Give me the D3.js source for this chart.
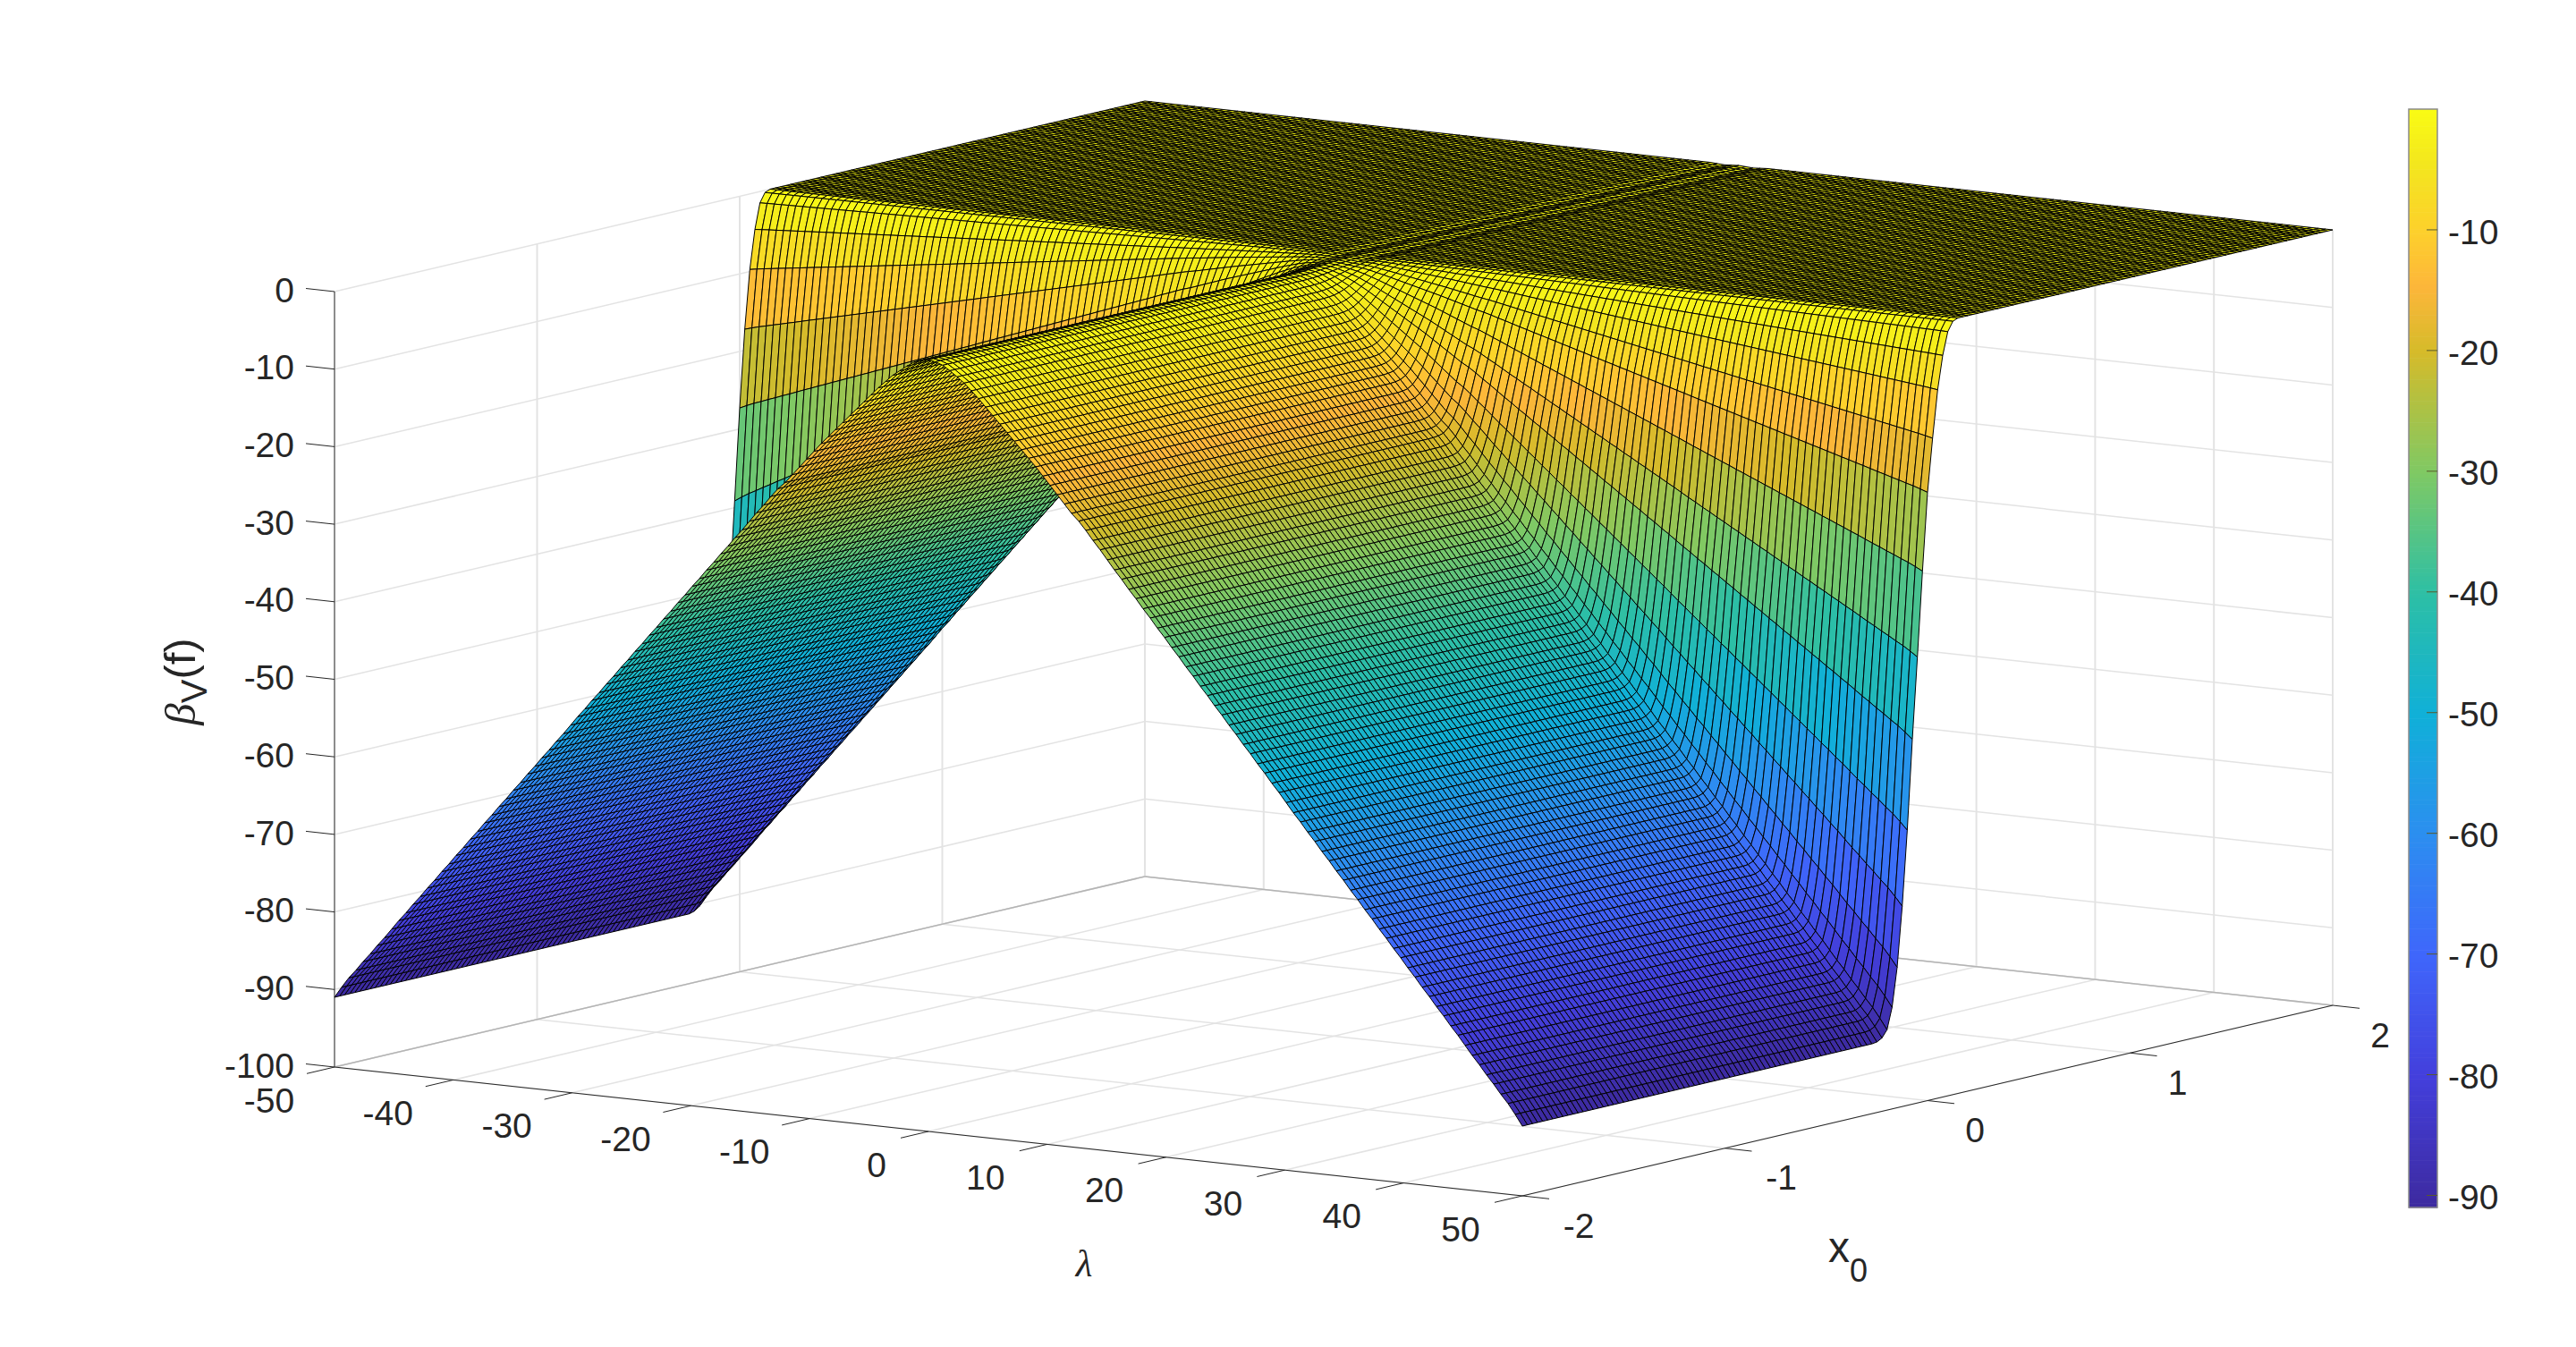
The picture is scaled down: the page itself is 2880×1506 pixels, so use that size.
<!DOCTYPE html>
<html>
<head>
<meta charset="utf-8">
<script src="https://cdn.jsdelivr.net/npm/d3@7"></script>
<style>
  html, body { margin: 0; background: #fff; }
  text { font-family: "Liberation Sans", Arial, sans-serif; fill: #262626; }
</style>
</head>
<body>
<svg id="chart" width="2880" height="1506"></svg>
<script>
var width = 2880,
    height = 1506;

// tick labels
var lambdaTicks = [-50, -40, -30, -20, -10, 0, 10, 20, 30, 40, 50],
    x0Ticks = [-2, -1, 0, 1, 2],
    zTicks = [-100, -90, -80, -70, -60, -50, -40, -30, -20, -10, 0],
    barTicks = [-90, -80, -70, -60, -50, -40, -30, -20, -10];

// mesh positions
var lambdaGrid = d3.range(-83, 84).map(k => k * 50 / 83),
    x0Grid = d3.range(161).map(i => -2 + i * 0.025);

var ridgeProfile = [-0.5, -0.65, -1, -1.6, -2.3, -3, -3.9, -4.8, -5.8, -6.8, -7.8, -8.8,
    -9.8, -10.8, -11.8, -12.8, -13.9, -15, -16.1, -17.2, -18.3, -19.2, -20.3, -21.5,
    -22.6, -23.8, -25, -26.1, -27.3, -28.4, -29.6, -30.7, -31.9, -33, -34.2, -35.3,
    -36.5, -37.6, -38.8, -39.9, -41.1, -42.2, -43.4, -44.5, -45.7, -46.8, -48, -49.1,
    -50.3, -51.4, -52.6, -53.8, -54.9, -56.1, -57.2, -58.4, -59.5, -60.7, -61.8, -63,
    -64.1, -65.3, -66.4, -67.6, -68.7, -69.9, -71, -72.2, -73.3, -74.5, -75.6, -76.8,
    -77.9, -79.1, -80.2, -81.4, -82.6, -83.7, -84.9, -86, -87.2, -88.3, -89.6, -91];

// share of that height left on the wall, x0 = -0.3 to 0.175 in mesh steps,
// read separately along the lambda = -50 and lambda = 50 edges
var wallShareLeft = [1, 1, 1, 0.998, 0.993, 0.975, 0.94, 0.875, 0.79, 0.68,
    0.56, 0.43, 0.3, 0.19, 0.107, 0.052, 0.016, 0.003, 0, 0],
    wallShareRight = [1, 1, 0.999, 0.995, 0.985, 0.955, 0.9, 0.815, 0.709, 0.582,
    0.467, 0.347, 0.237, 0.162, 0.095, 0.048, 0.016, 0.003, 0, 0];

// small crease along lambda = 0 on the flat top
var topCrease = [0, -0.07, -0.14, -0.07];

// colorbar read at these values
var colorValues = [-91, -80, -70, -60, -50, -40, -30, -20, -14.5, -10, -4.5, 0],
    colorStops = ["#3d2a9e", "#433fdc", "#3f66fb", "#2c8ef0", "#10b0d8", "#2dbfa5",
                  "#7fc964", "#d5bb2a", "#fdb63a", "#fdd02c", "#f3e61e", "#f9fb14"];

var colorScale = d3.scaleLinear().domain(colorValues).range(colorStops).clamp(true);

// axes box as it falls on the page
var lamX = d3.scaleLinear().domain([-50, 50]).range([0, 1328]),
    lamY = d3.scaleLinear().domain([-50, 50]).range([0, 144]),
    x0X = d3.scaleLinear().domain([-2, 2]).range([0, 906]),
    x0Y = d3.scaleLinear().domain([-2, 2]).range([0, -213]),
    zY = d3.scaleLinear().domain([-100, 0]).range([0, -867]);

function project(l, x, z) {
    return [374 + lamX(l) + x0X(x), 1193 + lamY(l) + x0Y(x) + zY(z)];
}

function shareAt(i, j) {
    if (i < 68) return 1;
    if (i >= 88) return 0;
    return (j < 83 ? wallShareLeft : wallShareRight)[i - 68];
}

function heightAt(i, j) {
    let k = Math.abs(j - 83),
        s = shareAt(i, j),
        c = k < topCrease.length ? topCrease[k] : 0;
    return ridgeProfile[k] * s + c * (1 - s);
}

var svg = d3.select("#chart"),
    getPath = d3.line();

function seg(g, a, b, color, w) {
    g.append("line")
        .attr("x1", a[0]).attr("y1", a[1])
        .attr("x2", b[0]).attr("y2", b[1])
        .attr("stroke", color)
        .attr("stroke-width", w);
}

function drawGrid() {
    let g = svg.append("g"),
        soft = "#e3e3e3";

    zTicks.forEach(z => {
        seg(g, project(-50, -2, z), project(-50, 2, z), soft, 1.5);
        seg(g, project(-50, 2, z), project(50, 2, z), soft, 1.5);
    });
    lambdaTicks.forEach(l => {
        seg(g, project(l, -2, -100), project(l, 2, -100), soft, 1.5);
        seg(g, project(l, 2, -100), project(l, 2, 0), soft, 2);
    });
    x0Ticks.forEach(x => {
        seg(g, project(-50, x, -100), project(50, x, -100), soft, 1.5);
        seg(g, project(-50, x, -100), project(-50, x, 0), soft, 2);
    });

    // box edges
    seg(g, project(-50, -2, -100), project(-50, 2, -100), "#b4b4b4", 1.5);
    seg(g, project(-50, 2, -100), project(50, 2, -100), "#b4b4b4", 1.5);
    seg(g, project(-50, -2, -100), project(-50, -2, 0), "#8c8c8c", 2);
    seg(g, project(-50, -2, -100), project(50, -2, -100), "#262626", 1);
    seg(g, project(50, -2, -100), project(50, 2, -100), "#262626", 1);
}

function drawTicks() {
    let g = svg.append("g"),
        dark = "#262626";

    zTicks.forEach(z => {
        let p = project(-50, -2, z);
        seg(g, p, [p[0] - 32, p[1] - 3.5], dark, 1);
        g.append("text")
            .attr("x", 329).attr("y", p[1] - 2)
            .attr("dy", "0.35em")
            .attr("text-anchor", "end")
            .attr("font-size", 39)
            .text(z);
    });
    lambdaTicks.forEach(l => {
        let p = project(l, -2, -100),
            shift = l === 0 ? 15 : (l > 0 ? 4 : 0);
        seg(g, p, [p[0] - 31, p[1] + 7.3], dark, 1);
        g.append("text")
            .attr("x", p[0] - 73 + shift).attr("y", p[1] + 37)
            .attr("dy", "0.35em")
            .attr("text-anchor", "middle")
            .attr("font-size", 39)
            .text(l);
    });
    x0Ticks.forEach(x => {
        let p = project(50, x, -100);
        seg(g, p, [p[0] + 30, p[1] + 3.3], dark, 1);
        g.append("text")
            .attr("x", p[0] + (x < 0 ? 63 : 53)).attr("y", p[1] + 33)
            .attr("dy", "0.35em")
            .attr("text-anchor", "middle")
            .attr("font-size", 39)
            .text(x);
    });
}

function drawSurface() {
    let cells = [];
    // back rows first, so nearer cells paint over them
    for (let i = x0Grid.length - 2; i >= 0; i--) {
        for (let j = 0; j < lambdaGrid.length - 1; j++) {
            cells.push({i: i, j: j});
        }
    }
    let corner = (i, j) => project(lambdaGrid[j], x0Grid[i], heightAt(i, j)),
        cellHeight = d => (heightAt(d.i, d.j) + heightAt(d.i, d.j + 1)
            + heightAt(d.i + 1, d.j) + heightAt(d.i + 1, d.j + 1)) / 4;

    svg.append("g")
        .attr("stroke", "#000")
        .attr("stroke-width", 1)
        .attr("stroke-linejoin", "round")
        .selectAll("path")
        .data(cells)
        .join("path")
        .attr("fill", d => colorScale(cellHeight(d)))
        .attr("d", d => getPath([
            corner(d.i, d.j),
            corner(d.i, d.j + 1),
            corner(d.i + 1, d.j + 1),
            corner(d.i + 1, d.j)
        ]) + "Z");
}

function drawColorbar() {
    let g = svg.append("g"),
        barY = d3.scaleLinear().domain([0, -91]).range([122, 1350]),
        steps = d3.range(0, 256).map(n => -91 * n / 256);

    g.selectAll("rect")
        .data(steps)
        .join("rect")
        .attr("x", 2693)
        .attr("width", 32)
        .attr("y", d => barY(d))
        .attr("height", 1228 / 256 + 0.6)
        .attr("fill", d => colorScale(d));

    g.append("rect")
        .attr("x", 2693).attr("y", 122)
        .attr("width", 32).attr("height", 1228)
        .attr("fill", "none")
        .attr("stroke", "#8a8a8a")
        .attr("stroke-width", 1.5);

    barTicks.forEach(t => {
        seg(g, [2713, barY(t)], [2725, barY(t)], "#5a5a2a", 1);
        g.append("text")
            .attr("x", 2737).attr("y", barY(t) + 2)
            .attr("dy", "0.35em")
            .attr("font-size", 39)
            .text(t);
    });
}

function drawLabels() {
    svg.append("text")
        .attr("x", 1212).attr("y", 1427)
        .attr("text-anchor", "middle")
        .attr("font-size", 43)
        .attr("font-style", "italic")
        .style("font-family", "'Liberation Serif', serif")
        .text("λ");

    let xl = svg.append("text").attr("x", 2044).attr("y", 1411).attr("font-size", 48);
    xl.append("tspan").text("x");
    xl.append("tspan").attr("dy", 22).attr("font-size", 36).text("0");

    let zl = svg.append("text")
        .attr("transform", "translate(218,762) rotate(-90)")
        .attr("text-anchor", "middle")
        .attr("font-size", 49);
    zl.append("tspan")
        .attr("font-style", "italic")
        .style("font-family", "'Liberation Serif', serif")
        .text("β");
    zl.append("tspan").attr("dy", 13).attr("font-size", 40).text("V");
    zl.append("tspan").attr("dy", -13).text("(f)");
}

drawGrid();
drawTicks();
drawSurface();
drawColorbar();
drawLabels();
</script>
</body>
</html>
